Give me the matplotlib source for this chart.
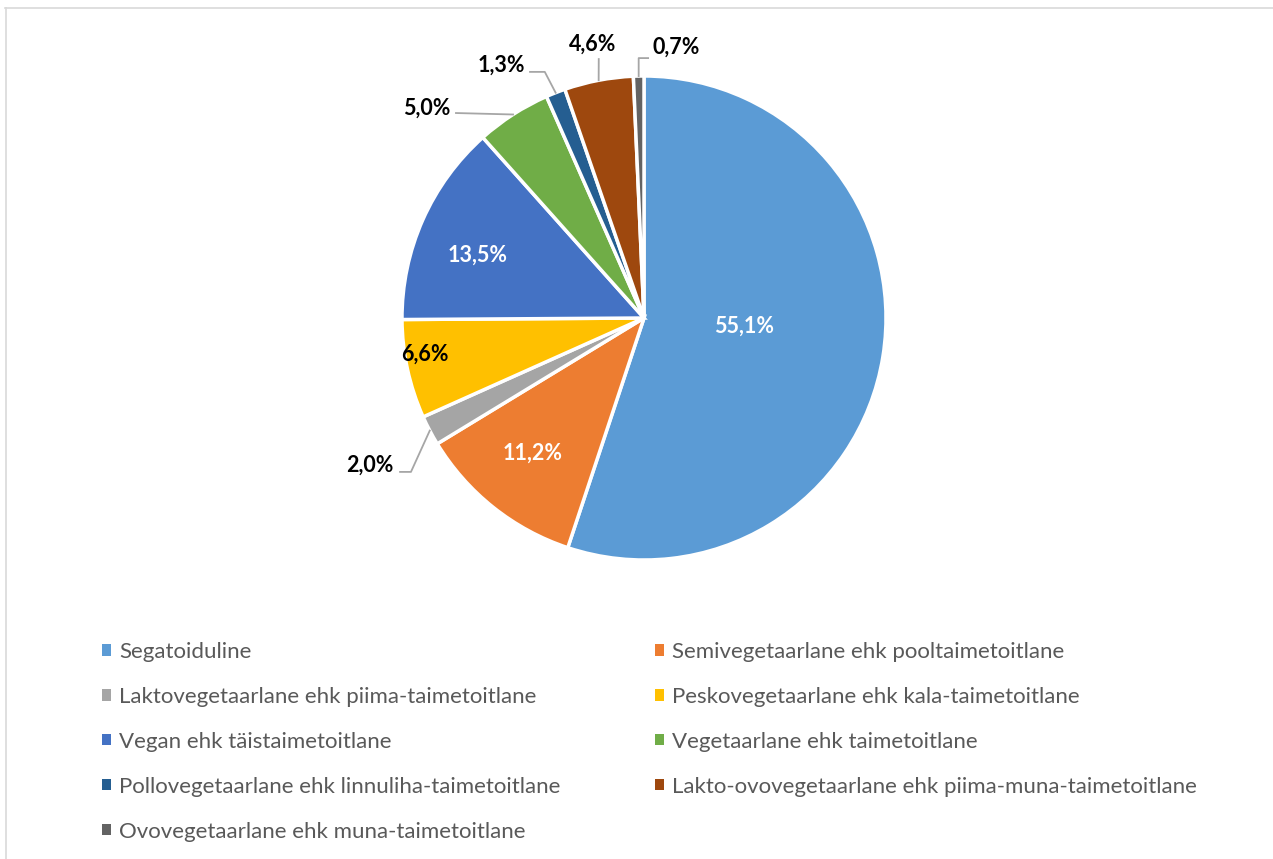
import math

import matplotlib
matplotlib.use("Agg")
import matplotlib.pyplot as plt
from matplotlib.patches import Patch
from matplotlib.lines import Line2D

categories = [
    "Segatoiduline",
    "Semivegetaarlane ehk pooltaimetoitlane",
    "Laktovegetaarlane ehk piima-taimetoitlane",
    "Peskovegetaarlane ehk kala-taimetoitlane",
    "Vegan ehk täistaimetoitlane",
    "Vegetaarlane ehk taimetoitlane",
    "Pollovegetaarlane ehk linnuliha-taimetoitlane",
    "Lakto-ovovegetaarlane ehk piima-muna-taimetoitlane",
    "Ovovegetaarlane ehk muna-taimetoitlane",
]
shares = [55.1, 11.2, 2.0, 6.6, 13.5, 5.0, 1.3, 4.6, 0.7]
colors = ["#5B9BD5", "#ED7D31", "#A5A5A5", "#FFC000", "#4472C4",
          "#70AD47", "#255E91", "#9E480E", "#636363"]

W, H = 1273, 859
cx, cy, R = 644, 318, 242
FONT = ["Lato", "DejaVu Sans"]

fig = plt.figure(figsize=(W / 100, H / 100), dpi=100)
ax = fig.add_axes([(cx - R) / W, (H - cy - R) / H, 2 * R / W, 2 * R / H])
wedges, _ = ax.pie(shares, colors=colors, startangle=90, counterclock=False,
                   radius=1, wedgeprops=dict(edgecolor="white", linewidth=2.5))
ax.set_xlim(-1, 1)
ax.set_ylim(-1, 1)
ax.axis("off")


def lbl(v):
    return f"{v:.1f}%".replace(".", ",")


# (text x, text y, color, ha, leader points or None)
label_pos = [
    (0.415, -0.035, "white", "center", None),
    (-0.46, -0.56, "white", "center", None),
    (-1.035, -0.61, "black", "right", [(-1.008, -0.636), (-0.963, -0.636)]),
    (-0.905, -0.15, "black", "center", None),
    (-0.686, 0.26, "white", "center", None),
    (-0.80, 0.868, "black", "right", [(-0.777, 0.847)]),
    (-0.49, 1.045, "black", "right", [(-0.471, 1.017), (-0.41, 1.017)]),
    (-0.211, 1.13, "black", "center", [(-0.187, 1.07)]),
    (0.037, 1.118, "black", "left", [(0.017, 1.074), (-0.022, 1.074)]),
]

for w, v, (tx, ty, c, ha, leader) in zip(wedges, shares, label_pos):
    ax.text(tx, ty, lbl(v), color=c, ha=ha, va="center", fontsize=15.5,
            fontweight="bold", family=FONT)
    if leader:
        mid = math.radians((w.theta1 + w.theta2) / 2)
        tip = (math.cos(mid), math.sin(mid))
        pts = leader + [tip]
        ax.add_line(Line2D([p[0] for p in pts], [p[1] for p in pts],
                           color="#A6A6A6", lw=1.3, clip_on=False))

handles = [Patch(facecolor=c, edgecolor="none") for c in colors]
kw = dict(frameon=False, labelcolor="#595959",
          handlelength=0.4, handleheight=0.4, handletextpad=0.36,
          labelspacing=1.12, borderpad=0, borderaxespad=0,
          prop={"family": FONT, "size": 16})
left = [0, 2, 4, 6, 8]
right = [1, 3, 5, 7]
fig.legend([handles[i] for i in left], [categories[i] for i in left],
           loc="upper left", bbox_to_anchor=(102 / W, 1 - 642 / H), **kw)
fig.legend([handles[i] for i in right], [categories[i] for i in right],
           loc="upper left", bbox_to_anchor=(655 / W, 1 - 642 / H), **kw)

# chart frame
fig.add_artist(Line2D([5 / W, 1], [1 - 8 / H, 1 - 8 / H], color="#D9D9D9", lw=1.2))
fig.add_artist(Line2D([6 / W, 6 / W], [0, 1 - 8 / H], color="#D9D9D9", lw=1.2))

fig.savefig("out.png", dpi=100)
